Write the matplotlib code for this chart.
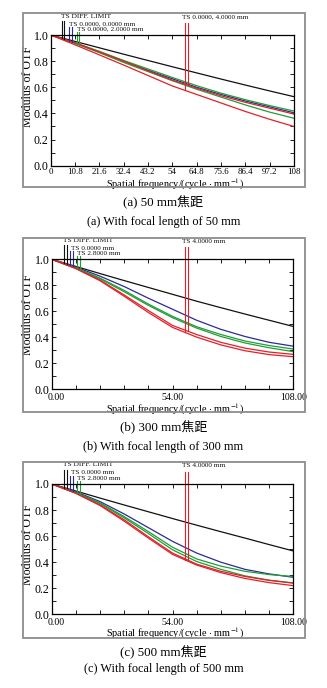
import matplotlib
matplotlib.use("Agg")
import matplotlib.pyplot as plt
import matplotlib.transforms as mtrans
import numpy as np
from matplotlib.patches import Rectangle
from matplotlib.ticker import MultipleLocator, NullFormatter

plt.rcParams['font.family'] = ['Liberation Serif', 'Noto Sans CJK SC']
plt.rcParams['mathtext.fontset'] = 'stix'

# Spatial frequency samples (cycle/mm)
freq = [0, 10.8, 21.6, 32.4, 43.2, 54, 64.8, 75.6, 86.4, 97.2, 108]

# (a) 50 mm focal length
a_diff = [1.0, 0.951, 0.902, 0.853, 0.805, 0.757, 0.710, 0.663, 0.617, 0.572, 0.528]
a_f0 = [1.0, 0.940, 0.870, 0.800, 0.730, 0.665, 0.600, 0.545, 0.495, 0.450, 0.405]
a_f1_t = [1.0, 0.940, 0.875, 0.805, 0.740, 0.675, 0.612, 0.555, 0.505, 0.460, 0.418]
a_f1_s = [1.0, 0.935, 0.865, 0.790, 0.720, 0.650, 0.585, 0.525, 0.465, 0.410, 0.363]
a_f2_t = [1.0, 0.940, 0.870, 0.800, 0.725, 0.655, 0.593, 0.535, 0.485, 0.440, 0.395]
a_f2_s = [1.0, 0.925, 0.848, 0.770, 0.690, 0.610, 0.545, 0.480, 0.415, 0.355, 0.300]

# (b) 300 mm focal length
b_diff = [1.0, 0.945, 0.890, 0.836, 0.783, 0.730, 0.677, 0.627, 0.578, 0.530, 0.482]
b_f0 = [1.0, 0.940, 0.870, 0.790, 0.700, 0.615, 0.530, 0.460, 0.405, 0.360, 0.330]
b_f1_t = [1.0, 0.935, 0.855, 0.760, 0.655, 0.560, 0.480, 0.420, 0.370, 0.335, 0.308]
b_f1_s = [1.0, 0.933, 0.850, 0.750, 0.645, 0.550, 0.470, 0.405, 0.355, 0.318, 0.288]
b_f2_t = [1.0, 0.930, 0.840, 0.725, 0.605, 0.490, 0.420, 0.360, 0.315, 0.285, 0.267]
b_f2_s = [1.0, 0.928, 0.835, 0.715, 0.590, 0.475, 0.400, 0.340, 0.295, 0.265, 0.249]

# (c) 500 mm focal length
c_diff = [1.0, 0.946, 0.892, 0.839, 0.787, 0.735, 0.684, 0.634, 0.585, 0.535, 0.486]
c_f0 = [1.0, 0.940, 0.865, 0.770, 0.665, 0.560, 0.470, 0.400, 0.345, 0.310, 0.284]
c_f1_t = [1.0, 0.935, 0.855, 0.750, 0.635, 0.515, 0.425, 0.370, 0.330, 0.305, 0.290]
c_f1_s = [1.0, 0.933, 0.850, 0.740, 0.620, 0.495, 0.405, 0.345, 0.295, 0.262, 0.240]
c_f2_t = [1.0, 0.930, 0.840, 0.725, 0.595, 0.470, 0.385, 0.330, 0.290, 0.260, 0.240]
c_f2_s = [1.0, 0.928, 0.835, 0.715, 0.585, 0.460, 0.378, 0.320, 0.275, 0.243, 0.220]

a_labels = ["TS DIFF. LIMIT", "TS 0.0000, 0.0000 mm", "TS 0.0000, 2.0000 mm", "TS 0.0000, 4.0000 mm"]
bc_labels = ["TS DIFF. LIMIT", "TS 0.0000 mm", "TS 2.8000 mm", "TS 4.0000 mm"]

a_xticks = [0, 10.8, 21.6, 32.4, 43.2, 54, 64.8, 75.6, 86.4, 97.2, 108]
a_xticklabels = ["0", "10.8", "21.6", "32.4", "43.2", "54", "64.8", "75.6", "86.4", "97.2", "108"]
bc_xticks = [0, 54, 108]
bc_xticklabels = ["0.00", "54.00", "108.00"]
yticks = [0.0, 0.2, 0.4, 0.6, 0.8, 1.0]

captions_cn = ["(a) 50 mm焦距", "(b) 300 mm焦距", "(c) 500 mm焦距"]
captions_en = ["(a) With focal length of 50 mm", "(b) With focal length of 300 mm",
               "(c) With focal length of 500 mm"]

W, H = 327, 688
fig = plt.figure(figsize=(W / 100, H / 100), dpi=100)

C_DIFF = "#111111"
C_F0 = "#2b2b95"
C_F1 = "#1f9e35"
C_F2 = "#e3202a"


def fig_rect(x0, y0, x1, y1):
    return [x0 / W, 1 - y1 / H, (x1 - x0) / W, (y1 - y0) / H]


panels = [
    dict(frame=(22.7, 13, 305, 187), axes=(50.7, 35, 294, 165.7),
         series=(a_diff, a_f0, a_f1_t, a_f1_s, a_f2_t, a_f2_s), labels=a_labels,
         xticks=a_xticks, xticklabels=a_xticklabels, minor_x=None, xtick_size=6.4,
         xtick_pad=1.4, first_shift=0,
         ylab=(-0.067, 0.607), xlab=(0.51, -0.088), cap=(202.7, 221.7),
         legend_x=(5.1, 6.0, 8.0, 9.3, 11.5, 12.7, 59.6, 60.8)),
    dict(frame=(22.7, 237.7, 305, 411.7), axes=(51.7, 259.3, 293.3, 389),
         series=(b_diff, b_f0, b_f1_t, b_f1_s, b_f2_t, b_f2_s), labels=bc_labels,
         xticks=bc_xticks, xticklabels=bc_xticklabels, minor_x=10.8, xtick_size=7.0,
         xtick_pad=2.6, first_shift=4,
         ylab=(-0.072, 0.571), xlab=(0.51, -0.096), cap=(427.7, 446.7),
         legend_x=(5.6, 6.7, 8.3, 9.5, 11.2, 12.7, 59.6, 60.8)),
    dict(frame=(22.7, 461.7, 305, 637.7), axes=(51.7, 484, 293.3, 614.3),
         series=(c_diff, c_f0, c_f1_t, c_f1_s, c_f2_t, c_f2_s), labels=bc_labels,
         xticks=bc_xticks, xticklabels=bc_xticklabels, minor_x=10.8, xtick_size=7.0,
         xtick_pad=2.6, first_shift=4,
         ylab=(-0.072, 0.532), xlab=(0.51, -0.09), cap=(652.7, 669.3),
         legend_x=(5.6, 6.7, 8.3, 9.5, 11.2, 12.7, 59.6, 60.8)),
]

for i, p in enumerate(panels):
    fx0, fy0, fx1, fy1 = p["frame"]
    fig.patches.append(Rectangle((fx0 / W, 1 - fy1 / H), (fx1 - fx0) / W, (fy1 - fy0) / H,
                                 transform=fig.transFigure, fill=False,
                                 edgecolor="#8c8c8c", lw=1.3))
    ax = fig.add_axes(fig_rect(*p["axes"]))
    hpx = p["axes"][3] - p["axes"][1]
    diff, f0, f1t, f1s, f2t, f2s = p["series"]

    ax.plot(freq, diff, color=C_DIFF, lw=0.9)
    ax.plot(freq, f0, color=C_F0, lw=0.9)
    ax.plot(freq, f1t, color=C_F1, lw=0.9)
    ax.plot(freq, f1s, color=C_F1, lw=0.9)
    ax.plot(freq, f2t, color=C_F2, lw=0.9)
    ax.plot(freq, f2s, color=C_F2, lw=0.9)

    ax.set_xlim(0, 108)
    ax.set_ylim(0, 1.0)

    # Legend markers: vertical lines from the label row down to each curve
    lx = p["legend_x"]
    marks = [
        (C_DIFF, lx[0], diff, 14.3), (C_DIFF, lx[1], diff, 14.3),
        (C_F0, lx[2], f0, 8.3), (C_F0, lx[3], f0, 8.3),
        (C_F1, lx[4], f1s, 3.3), (C_F1, lx[5], f1t, 3.3),
        (C_F2, lx[6], f2s, 12.3), (C_F2, lx[7], f2t, 12.3),
    ]
    for col, xf, ser, top in marks:
        yb = np.interp(xf, freq, ser)
        ax.plot([xf, xf], [yb, 1 + top / hpx], color=col, lw=0.8, clip_on=False)

    lab = p["labels"]
    ax.text(lx[0] - 0.5, 1 + 19 / hpx, lab[0], fontsize=5.4, ha="left", va="center",
            color="#111111", clip_on=False)
    ax.text(lx[2] + 0.3, 1 + 11.2 / hpx, lab[1], fontsize=5.2, ha="left", va="center",
            color="#111111", clip_on=False)
    ax.text(lx[4] + 0.2, 1 + 5.7 / hpx, lab[2], fontsize=5.2, ha="left", va="center",
            color="#111111", clip_on=False)
    ax.text(lx[6] - 1.5, 1 + 18.2 / hpx, lab[3], fontsize=5.2, ha="left", va="center",
            color="#111111", clip_on=False)

    ax.set_xticks(p["xticks"])
    ax.set_xticklabels(p["xticklabels"])
    if p["minor_x"]:
        ax.xaxis.set_minor_locator(MultipleLocator(p["minor_x"]))
        ax.xaxis.set_minor_formatter(NullFormatter())
    ax.set_yticks(yticks)
    ax.set_yticklabels([f"{v:.1f}" for v in yticks])
    ax.yaxis.set_minor_locator(MultipleLocator(0.1))

    ax.tick_params(which="both", direction="in", top=True, right=True,
                   length=3, width=0.7, color="#222222")
    ax.tick_params(axis="y", which="major", labelsize=8.6, pad=1.6)
    ax.tick_params(axis="x", which="major", labelsize=p["xtick_size"], pad=p["xtick_pad"])
    for s in ax.spines.values():
        s.set_linewidth(0.9)

    if p["first_shift"]:
        first = ax.get_xticklabels()[0]
        first.set_transform(first.get_transform() + mtrans.ScaledTranslation(
            p["first_shift"] / 100, 0, fig.dpi_scale_trans))

    ax.set_ylabel("Modulus of OTF", fontsize=8.6)
    ax.yaxis.set_label_coords(*p["ylab"])
    ax.set_xlabel("Spatial frequency/(cycle $\\cdot$ mm$^{-1}$)", fontsize=7.4)
    ax.xaxis.set_label_coords(*p["xlab"])

    cy1, cy2 = p["cap"]
    fig.text(0.5, 1 - cy1 / H, captions_cn[i], fontsize=9.4, ha="center", va="center")
    fig.text(0.5, 1 - cy2 / H, captions_en[i], fontsize=8.8, ha="center", va="center")

fig.savefig("out.png", dpi=100)
